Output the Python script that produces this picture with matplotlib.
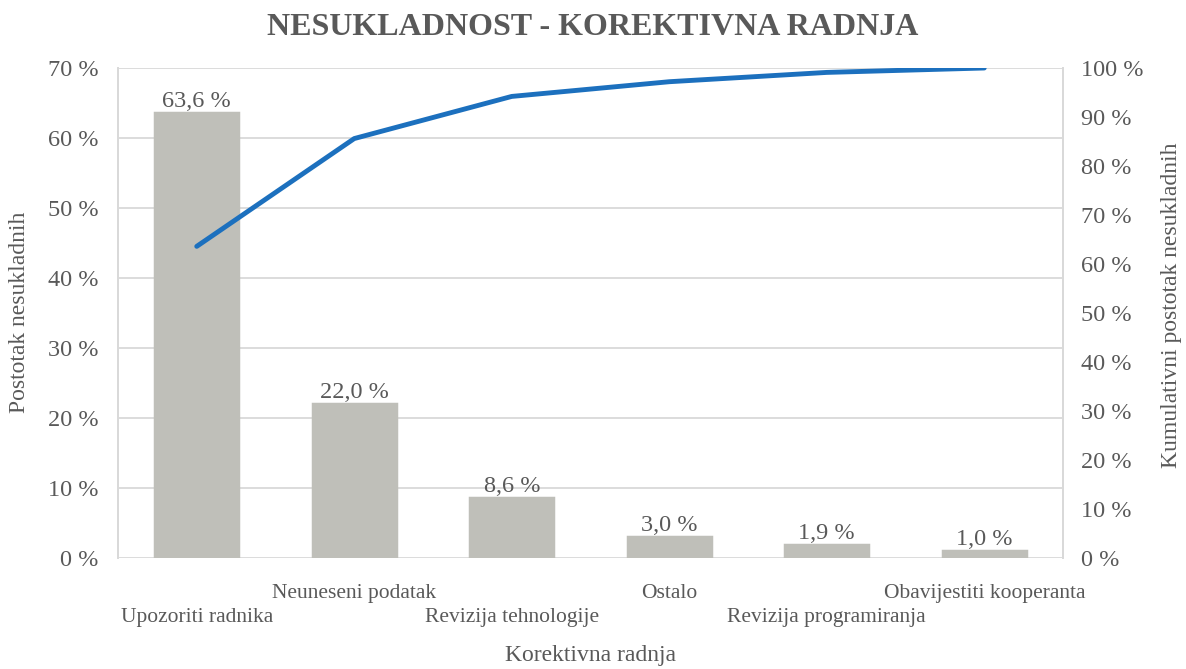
import matplotlib
matplotlib.use("Agg")
import matplotlib.pyplot as plt
from matplotlib.ticker import FuncFormatter

# ── Data ───────────────────────────────────────────────────────────────────────
categories = ["Upozoriti radnika", "Neuneseni podatak", "Revizija tehnologije",
              "Ostalo", "Revizija programiranja", "Obavijestiti kooperanta"]
share_pct = [63.6, 22.0, 8.6, 3.0, 1.9, 1.0]
cumulative_pct = [63.6, 85.6, 94.2, 97.2, 99.1, 100.0]

TEXT = "#595959"
GRID = "#D9D9D9"
BAR = "#BFBFB9"
LINE = "#1C70BE"

plt.rcParams["font.family"] = ["Liberation Serif", "DejaVu Serif"]

W, H = 1186, 669
fig = plt.figure(figsize=(W / 100, H / 100), dpi=100)
ax = fig.add_axes([118 / W, 1 - 558 / H, (1063 - 118) / W, (558 - 68) / H])
ax2 = ax.twinx()

x = list(range(len(categories)))
ax.bar(x, share_pct, width=0.53, color=BAR, edgecolor=BAR, linewidth=2.5, zorder=2)
for xi, v in zip(x, share_pct):
    ax.text(xi, v + 0.15, f"{v:.1f} %".replace(".", ","), ha="center", va="bottom",
            fontsize=17.5, color=TEXT)

ax2.plot(x, cumulative_pct, color=LINE, linewidth=3.5, solid_capstyle="round", zorder=3)

ax.set_xlim(-0.5, len(categories) - 0.5)
ax.set_ylim(0, 70)
ax2.set_ylim(0, 100)
ax.set_yticks(range(0, 71, 10))
ax2.set_yticks(range(0, 101, 10))
pct_fmt = FuncFormatter(lambda v, _: f"{v:.0f} %")
ax.yaxis.set_major_formatter(pct_fmt)
ax2.yaxis.set_major_formatter(pct_fmt)

ax.grid(axis="y", color=GRID, linewidth=1.3, zorder=0)
ax.set_axisbelow(True)

for a in (ax, ax2):
    for side in ("top", "bottom"):
        a.spines[side].set_visible(False)
    a.spines["left"].set_color(GRID)
    a.spines["right"].set_color(GRID)
    a.spines["left"].set_linewidth(1.3)
    a.spines["right"].set_linewidth(1.3)
    a.tick_params(axis="y", length=0, labelsize=17.5, labelcolor=TEXT)

ax.tick_params(axis="y", pad=14)
ax2.tick_params(axis="y", pad=13)

ax.set_xticks(x)
ax.set_xticklabels(categories)
ax.tick_params(axis="x", length=0, labelsize=15.5, labelcolor=TEXT)
for i, lbl in enumerate(ax.get_xticklabels()):
    lbl.set_y(-0.043 if i % 2 else -0.093)

# axis titles placed in figure pixels (the staggered tick labels confuse labelpad)
fig.text((118 + 1063) / 2 / W, 1 - 656 / H, "Korektivna radnja", ha="center", va="center",
         fontsize=17, color=TEXT)
fig.text(20 / W, 1 - 312 / H, "Postotak nesukladnih", rotation=90, ha="center",
         va="center", fontsize=17, color=TEXT)
fig.text(1172 / W, 1 - 305 / H, "Kumulativni postotak nesukladnih", rotation=90,
         ha="center", va="center", fontsize=17, color=TEXT)

fig.suptitle("NESUKLADNOST - KOREKTIVNA RADNJA", fontsize=23, fontweight="bold",
             color=TEXT, y=0.98)

fig.savefig("out.png", dpi=100)
